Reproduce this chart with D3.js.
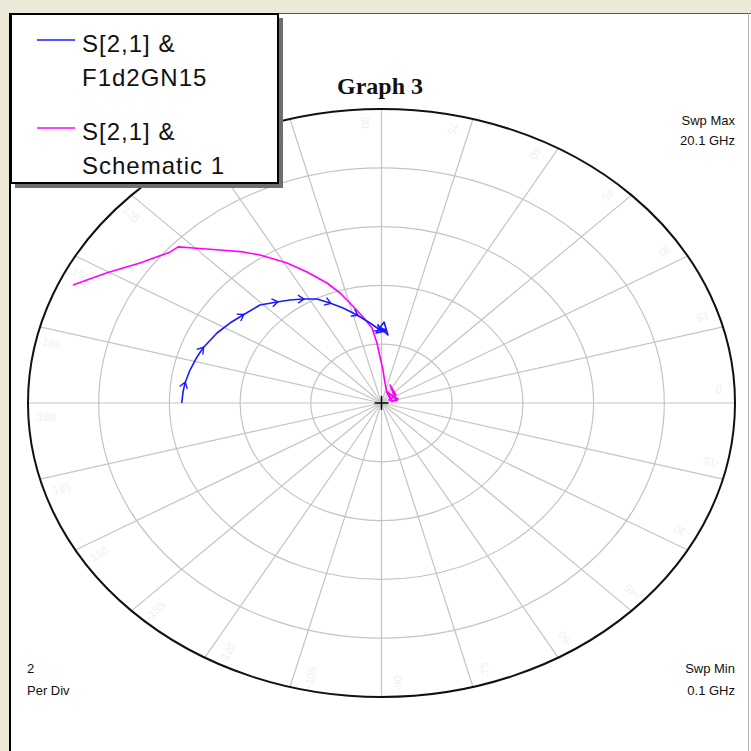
<!DOCTYPE html>
<html>
<head>
<meta charset="utf-8">
<script src="https://cdn.jsdelivr.net/npm/d3@7"></script>
<style>
  html, body { margin: 0; padding: 0; background: #ece9d8; }
  svg { display: block; }
</style>
</head>
<body>
<svg id="chart" width="751" height="751"></svg>
<script>
// S[2,1] traces, polar form: magnitude and phase (degrees), in sweep order
const f1d2Mag = [5.651, 5.627, 5.600, 5.532, 5.449, 5.385, 5.227, 5.077, 4.930, 4.788,
                 4.532, 4.356, 4.177, 3.980, 3.700, 3.410, 3.072, 2.740, 2.483, 2.417,
                 2.621, 2.452, 2.386, 2.756, 2.320, 2.551, 2.488];
const f1d2Ang = [180.0, 176.2, 173.0, 168.3, 163.3, 159.7, 152.9, 147.6, 142.6, 135.9,
                 130.7, 126.5, 122.1, 117.3, 113.2, 108.6, 103.0, 96.8, 91.0, 87.7,
                 92.2, 87.0, 93.7, 88.5, 85.5, 90.9, 86.4];

const schemMag = [9.606, 8.936, 8.328, 7.885, 7.829, 7.498, 6.925, 6.460, 6.095, 5.461,
                  4.929, 4.363, 3.921, 3.516, 2.971, 2.565, 2.045, 1.566, 1.123, 0.687,
                  0.374, 0.294, 0.305, 0.417, 0.418, 0.657, 0.492, 0.235, 0.443, 0.403,
                  0.486, 0.271];
const schemAng = [155.3, 150.3, 145.1, 139.4, 137.3, 135.3, 131.3, 127.3, 124.3, 119.3,
                  115.3, 110.7, 107.4, 104.7, 100.1, 96.0, 93.6, 91.5, 87.9, 81.7,
                  65.4, 35.3, 12.9, 63.8, 24.0, 68.6, 33.6, 25.7, 8.8, 36.2,
                  16.2, 7.2];

// sample indices on the F1d2GN15 trace that carry direction arrows
const arrowIdx = [2, 5, 8, 10, 12, 14, 16, 18];

// grid: 2 per division, 5 divisions, spokes every 15 degrees
const perDiv = 2;
const ringValues = [2, 4, 6, 8, 10];
const spokeAngles = d3.range(0, 360, 15);
const spokeLabels = ["0", "15", "30", "45", "60", "75", "90", "105", "120", "135", "150", "165",
                     "-180", "-165", "-150", "-135", "-120", "-105", "-90", "-75", "-60", "-45", "-30", "-15"];

const legendNames = [["S[2,1] &", "F1d2GN15"], ["S[2,1] &", "Schematic 1"]];
const seriesColors = ["#1a1aff", "#ff00ff"];

const svg = d3.select("#chart");
const W = 751, H = 751;

// plot window
svg.append("rect").attr("x", 10).attr("y", 13).attr("width", W - 10).attr("height", H - 13)
  .attr("fill", "#ffffff");
svg.append("line").attr("x1", 10).attr("x2", W).attr("y1", 13.5).attr("y2", 13.5)
  .attr("stroke", "#555").attr("stroke-width", 1);
svg.append("line").attr("x1", 10).attr("x2", 10).attr("y1", 13).attr("y2", H)
  .attr("stroke", "#000").attr("stroke-width", 2);
svg.append("line").attr("x1", 748.5).attr("x2", 748.5).attr("y1", 13).attr("y2", H)
  .attr("stroke", "#b0b0b0").attr("stroke-width", 1);

// polar area (drawn as an ellipse)
const cx = 381.5, cy = 403, rx = 353.5, ry = 294;
const rMax = d3.max(ringValues);
const x = d3.scaleLinear().domain([-rMax, rMax]).range([cx - rx, cx + rx]);
const y = d3.scaleLinear().domain([-rMax, rMax]).range([cy + ry, cy - ry]);
const rad = d => d * Math.PI / 180;
const px = (m, a) => x(m * Math.cos(rad(a)));
const py = (m, a) => y(m * Math.sin(rad(a)));

const grid = svg.append("g");
grid.selectAll("line.spoke").data(spokeAngles).join("line")
  .attr("class", "spoke")
  .attr("x1", x(0)).attr("y1", y(0))
  .attr("x2", a => px(rMax, a)).attr("y2", a => py(rMax, a))
  .attr("stroke", "#c4c4c4").attr("stroke-width", 1.2);
grid.selectAll("ellipse.ring").data(ringValues.filter(v => v < rMax)).join("ellipse")
  .attr("class", "ring")
  .attr("cx", x(0)).attr("cy", y(0))
  .attr("rx", v => x(v) - x(0)).attr("ry", v => y(0) - y(v))
  .attr("fill", "none").attr("stroke", "#c4c4c4").attr("stroke-width", 1.2);
grid.append("ellipse")
  .attr("cx", x(0)).attr("cy", y(0)).attr("rx", x(rMax) - x(0)).attr("ry", y(0) - y(rMax))
  .attr("fill", "none").attr("stroke", "#111").attr("stroke-width", 2);

// faint angle labels just inside the outer ring
grid.selectAll("text.alab").data(spokeAngles).join("text")
  .attr("class", "alab")
  .attr("transform", (a, i) => {
    const la = a + 3;
    return `translate(${px(rMax * 0.955, la)},${py(rMax * 0.955, la)}) rotate(${(180 - a) % 360})`;
  })
  .attr("text-anchor", "middle").attr("dominant-baseline", "middle")
  .attr("font-family", "Liberation Sans, Arial, sans-serif").attr("font-size", 11)
  .attr("fill", "#efefef")
  .text((a, i) => spokeLabels[i]);

// centre cross
grid.append("line").attr("x1", x(0) - 7).attr("x2", x(0) + 7).attr("y1", y(0)).attr("y2", y(0))
  .attr("stroke", "#000").attr("stroke-width", 1.5);
grid.append("line").attr("x1", x(0)).attr("x2", x(0)).attr("y1", y(0) - 7).attr("y2", y(0) + 7)
  .attr("stroke", "#000").attr("stroke-width", 1.5);

// traces
const line = d3.line().x(d => px(d[0], d[1])).y(d => py(d[0], d[1]));
const f1d2 = f1d2Mag.map((m, i) => [m, f1d2Ang[i]]);
const schem = schemMag.map((m, i) => [m, schemAng[i]]);

svg.append("path").datum(schem).attr("d", line)
  .attr("fill", "none").attr("stroke", seriesColors[1]).attr("stroke-width", 1.6)
  .attr("stroke-linejoin", "round");
svg.append("path").datum(f1d2).attr("d", line)
  .attr("fill", "none").attr("stroke", seriesColors[0]).attr("stroke-width", 1.6)
  .attr("stroke-linejoin", "round");

// direction arrows along the F1d2GN15 trace
const arrows = svg.append("g");
arrowIdx.forEach(i => {
  const p0 = f1d2[i - 1], p1 = f1d2[i + 1], p = f1d2[i];
  const dx = px(p1[0], p1[1]) - px(p0[0], p0[1]);
  const dy = py(p1[0], p1[1]) - py(p0[0], p0[1]);
  const ang = Math.atan2(dy, dx) * 180 / Math.PI;
  arrows.append("path")
    .attr("transform", `translate(${px(p[0], p[1])},${py(p[0], p[1])}) rotate(${ang})`)
    .attr("d", "M-5,-4 L1,0 L-5,4")
    .attr("fill", "none").attr("stroke", seriesColors[0]).attr("stroke-width", 1.4);
});

// title and annotations
svg.append("text").attr("x", 380).attr("y", 94).attr("text-anchor", "middle")
  .attr("font-family", "Liberation Serif, Times New Roman, serif").attr("font-weight", "bold")
  .attr("font-size", 24).attr("fill", "#111").text("Graph 3");

const small = (tx, ty, anchor, txt) => svg.append("text").attr("x", tx).attr("y", ty)
  .attr("text-anchor", anchor).attr("font-family", "Liberation Sans, Arial, sans-serif")
  .attr("font-size", 13).attr("fill", "#111").text(txt);
small(735, 125, "end", "Swp Max");
small(735, 145, "end", "20.1 GHz");
small(735, 673, "end", "Swp Min");
small(735, 695, "end", "0.1 GHz");
small(27, 673, "start", String(perDiv));
small(27, 695, "start", "Per Div");

// legend
const lg = svg.append("g");
lg.append("rect").attr("x", 15).attr("y", 18).attr("width", 268).attr("height", 170).attr("fill", "#6e6e6e");
lg.append("rect").attr("x", 11).attr("y", 14).attr("width", 267).attr("height", 169)
  .attr("fill", "#fff").attr("stroke", "#000").attr("stroke-width", 2);
legendNames.forEach((lines, i) => {
  const top = 40 + i * 88;
  lg.append("line").attr("x1", 37).attr("x2", 75).attr("y1", top).attr("y2", top)
    .attr("stroke", seriesColors[i]).attr("stroke-width", 1.6);
  lines.forEach((t, j) => {
    lg.append("text").attr("x", 82).attr("y", top + 12 + j * 34)
      .attr("font-family", "Liberation Sans, Arial, sans-serif").attr("font-size", 24)
      .attr("letter-spacing", 1).attr("fill", "#111").text(t);
  });
});
</script>
</body>
</html>
